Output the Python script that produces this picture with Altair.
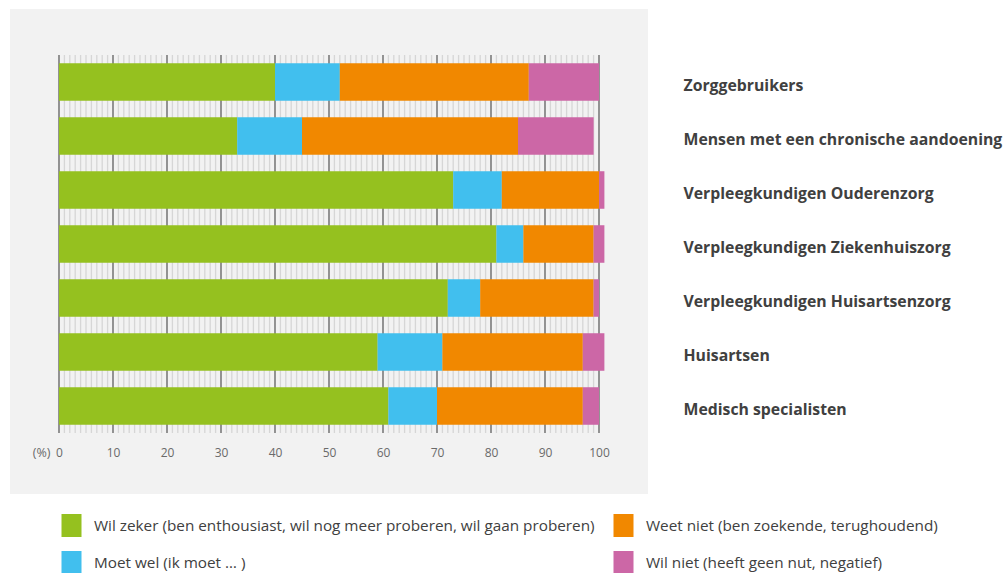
import altair as alt
import pandas as pd

# Groups, top to bottom
groepen = [
    "Zorggebruikers",
    "Mensen met een chronische aandoening",
    "Verpleegkundigen Ouderenzorg",
    "Verpleegkundigen Ziekenhuiszorg",
    "Verpleegkundigen Huisartsenzorg",
    "Huisartsen",
    "Medisch specialisten",
]

# Answer categories (stacking order left to right)
antwoorden = [
    "Wil zeker (ben enthousiast, wil nog meer proberen, wil gaan proberen)",
    "Moet wel (ik moet … )",
    "Weet niet (ben zoekende, terughoudend)",
    "Wil niet (heeft geen nut, negatief)",
]
kleuren = ["#95c11f", "#41bfee", "#f18800", "#cc67a6"]

# Percentages per group, one list per answer
wil_zeker = [40, 33, 73, 81, 72, 59, 61]
moet_wel = [12, 12, 9, 5, 6, 12, 9]
weet_niet = [35, 40, 18, 13, 21, 26, 27]
wil_niet = [13, 14, 1, 2, 1, 4, 3]

reeksen = [wil_zeker, moet_wel, weet_niet, wil_niet]

rows = []
for i, (antw, vals) in enumerate(zip(antwoorden, reeksen)):
    for g, v in zip(groepen, vals):
        rows.append({"groep": g, "antwoord": antw, "pct": v, "volgorde": i})
df = pd.DataFrame(rows)

# Fine (every 1 %) and coarse (every 10 %) gridlines
fijn = pd.DataFrame({"g": [v for v in range(0, 101) if v % 10 != 0]})
grof = pd.DataFrame({"g": list(range(0, 101, 10))})

W, H = 540, 378
FONT = "Open Sans"

xscale = alt.Scale(domain=[0, 100], nice=False, zero=True)
xaxis = alt.Axis(
    values=list(range(0, 101, 10)),
    title="(%)",
    titleX=-9,
    titleY=19,
    titleAlign="right",
    titleBaseline="middle",
    titleAngle=0,
    titleFont=FONT,
    titleFontSize=12.5,
    titleFontWeight="normal",
    titleColor="#6a6a6a",
    labelFont=FONT,
    labelFontSize=12,
    labelColor="#6a6a6a",
    labelPadding=19,
    labelBaseline="middle",
    labelFlush=False,
    labelAlign="center",
    domain=False,
    ticks=False,
    grid=False,
    zindex=1,
)

panel = alt.Chart(pd.DataFrame({"a": [0]})).mark_rect(color="#f2f2f2").encode(
    x=alt.value(-49), x2=alt.value(589), y=alt.value(-46), y2=alt.value(439)
)

fijn_rules = alt.Chart(fijn).mark_rule(color="#d6d6d6", strokeWidth=1.3).encode(
    x=alt.X("g:Q", scale=xscale, axis=xaxis)
)
grof_rules = alt.Chart(grof).mark_rule(color="#7a7a7a", strokeWidth=1.6).encode(
    x=alt.X("g:Q", scale=xscale, axis=xaxis)
)

bars = alt.Chart(df).mark_bar(strokeWidth=0).encode(
    x=alt.X("pct:Q", stack="zero", scale=xscale, axis=xaxis),
    y=alt.Y(
        "groep:N",
        sort=groepen,
        scale=alt.Scale(paddingInner=0.305, paddingOuter=0.1525),
        axis=alt.Axis(
            orient="right",
            title=None,
            labelFont=FONT,
            labelFontSize=15.8,
            labelFontWeight="bold",
            labelColor="#404040",
            labelAlign="left",
            labelPadding=84,
            labelOffset=4,
            labelLimit=400,
            domain=False,
            ticks=False,
            grid=False,
            zindex=1,
        ),
    ),
    color=alt.Color(
        "antwoord:N",
        scale=alt.Scale(domain=antwoorden, range=kleuren),
        legend=alt.Legend(
            title=None,
            orient="none",
            legendX=1,
            legendY=459,
            columns=2,
            columnPadding=17,
            rowPadding=14,
            symbolType="M-0.87,-1H0.87V1H-0.87Z",
            symbolSize=529,
            symbolStrokeWidth=0,
            labelFont=FONT,
            labelFontSize=15.3,
            labelColor="#404040",
            labelOffset=11,
            labelLimit=700,
        ),
    ),
    order=alt.Order("volgorde:Q", sort="ascending"),
)

chart = (
    alt.layer(panel, fijn_rules, grof_rules, bars)
    .resolve_scale(x="shared")
    .properties(
        width=W,
        height=H,
        autosize=alt.AutoSizeParams(type="none"),
        padding={"left": 59, "top": 55, "right": 1005 - 59 - W, "bottom": 573 - 55 - H},
        background="white",
    )
    .configure_view(stroke=None)
)

chart.save("out.html", embed_options={"renderer": "svg", "actions": False})
